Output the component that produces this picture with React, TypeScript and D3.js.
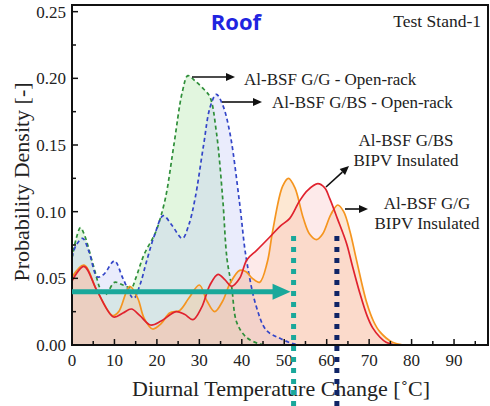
import * as d3 from "d3";

// Al-BSF G/G - Open-rack (green dashed)
const ggOpenX = [0, 1, 2, 3, 5, 7, 8, 10, 12, 14, 15, 17, 19, 20, 22, 24, 26, 27.3, 29, 31, 32.5, 34, 35.5, 36.5, 37.6, 38.8, 41, 44, 46];
const ggOpenY = [0.065, 0.08, 0.088, 0.082, 0.06, 0.04, 0.038, 0.047, 0.045, 0.043, 0.05, 0.068, 0.08, 0.087, 0.11, 0.15, 0.19, 0.202, 0.198, 0.192, 0.186, 0.16, 0.11, 0.065, 0.044, 0.017, 0.006, 0.001, 0];

// Al-BSF G/BS - Open-rack (blue dashed)
const gbsOpenX = [0, 1, 2.5, 4, 6, 7.5, 10, 12, 14.5, 16, 17.5, 19.5, 21.5, 23.5, 26, 27.5, 29, 31, 32.5, 34, 35.5, 37.2, 39.5, 41, 43.4, 45.8, 49, 52, 54];
const gbsOpenY = [0.066, 0.075, 0.08, 0.07, 0.051, 0.053, 0.063, 0.05, 0.035, 0.045, 0.062, 0.083, 0.097, 0.09, 0.08, 0.09, 0.11, 0.15, 0.178, 0.188, 0.18, 0.159, 0.106, 0.066, 0.029, 0.011, 0.005, 0.001, 0];

// Al-BSF G/G BIPV Insulated (orange)
const ggBipvX = [0, 2.8, 6, 9.6, 11, 13.6, 15.5, 17, 19, 21, 23, 25.4, 27.5, 30, 31.8, 33.6, 35.5, 37.2, 39.5, 41, 42.5, 44.2, 46, 47.3, 49.6, 51, 52.5, 54.5, 56, 57.6, 59, 61, 62.6, 64, 65.5, 67, 69.4, 71, 72.5, 75.5, 78];
const ggBipvY = [0.051, 0.06, 0.04, 0.022, 0.025, 0.044, 0.035, 0.02, 0.012, 0.016, 0.024, 0.026, 0.035, 0.045, 0.033, 0.025, 0.033, 0.046, 0.056, 0.055, 0.05, 0.047, 0.062, 0.086, 0.119, 0.125, 0.118, 0.095, 0.083, 0.079, 0.083, 0.098, 0.105, 0.1, 0.085, 0.064, 0.032, 0.018, 0.01, 0.002, 0];

// Al-BSF G/BS BIPV Insulated (red)
const gbsBipvX = [0, 2.8, 6, 9.8, 12, 14, 16, 18.5, 21, 24.5, 26.5, 28.5, 30.5, 32.5, 34.4, 36, 37.6, 39.5, 41.2, 43.5, 46.6, 49, 51.3, 53.6, 55.5, 57.9, 59.5, 60.7, 62.5, 64.7, 66, 67.8, 69.5, 70.8, 72.5, 74, 76];
const gbsBipvY = [0.048, 0.059, 0.04, 0.021, 0.024, 0.027, 0.022, 0.015, 0.018, 0.025, 0.023, 0.019, 0.028, 0.045, 0.053, 0.049, 0.044, 0.05, 0.064, 0.071, 0.081, 0.089, 0.095, 0.108, 0.116, 0.121, 0.118, 0.11, 0.095, 0.076, 0.06, 0.039, 0.022, 0.013, 0.006, 0.002, 0];

const xTicks = [0, 10, 20, 30, 40, 50, 60, 70, 80, 90];
const yTicks = [0, 0.05, 0.1, 0.15, 0.2, 0.25];

// markers
const meanLevel = 0.04;
const meanOpen = 52.2;
const meanBipv = 62.4;

const W = 490;
const H = 406;
const serif = "'Liberation Serif', 'Times New Roman', serif";

export default function App() {
  const x = d3.scaleLinear().domain([0, 98]).range([72, 488]);
  const y = d3.scaleLinear().domain([0, 0.255]).range([345, 5]);

  const zip = (xs: number[], ys: number[]) => xs.map((v, i) => [v, ys[i]] as [number, number]);
  const curve = d3.curveCatmullRom.alpha(0.5);
  const area = d3.area<[number, number]>().x(d => x(d[0])).y0(y(0)).y1(d => y(d[1])).curve(curve);
  const line = d3.line<[number, number]>().x(d => x(d[0])).y(d => y(d[1])).curve(curve);

  const series = [
    { d: zip(ggOpenX, ggOpenY), stroke: "#2f8f3a", fill: "rgba(190,235,185,0.45)", dash: "4,3" },
    { d: zip(gbsOpenX, gbsOpenY), stroke: "#3345c8", fill: "rgba(195,200,245,0.35)", dash: "4,3" },
    { d: zip(ggBipvX, ggBipvY), stroke: "#f5951f", fill: "rgba(250,200,150,0.42)", dash: null },
    { d: zip(gbsBipvX, gbsBipvY), stroke: "#e0222e", fill: "rgba(250,185,185,0.3)", dash: null },
  ];

  const minorX = d3.range(5, 98, 10);
  const minorY = d3.range(0.025, 0.255, 0.05);

  const arrow = (x1: number, y1: number, x2: number, y2: number, key: string) => {
    const a = Math.atan2(y2 - y1, x2 - x1);
    const L = 9, w = 4;
    const bx = x2 - L * Math.cos(a), by = y2 - L * Math.sin(a);
    const p = `${x2},${y2} ${bx - w * Math.sin(a)},${by + w * Math.cos(a)} ${bx + w * Math.sin(a)},${by - w * Math.cos(a)}`;
    return (
      <g key={key}>
        <line x1={x1} y1={y1} x2={bx} y2={by} stroke="#111" strokeWidth={1.6} />
        <polygon points={p} fill="#111" />
      </g>
    );
  };

  const teal = "#19a89b";
  const tealY = y(meanLevel);

  return (
    <svg width={W} height={H} style={{ position: "absolute", left: 0, top: 0, background: "#fff" }} fontFamily={serif}>
      {series.map((s, i) => (
        <path key={"a" + i} d={area(s.d) ?? ""} fill={s.fill} />
      ))}
      {series.map((s, i) => (
        <path key={"l" + i} d={line(s.d) ?? ""} fill="none" stroke={s.stroke} strokeWidth={1.7} strokeDasharray={s.dash ?? undefined} />
      ))}

      {/* frame */}
      <rect x={72} y={5} width={416} height={340} fill="none" stroke="#111" strokeWidth={2} />

      {/* ticks */}
      {xTicks.map(t => (
        <g key={"xt" + t}>
          <line x1={x(t)} x2={x(t)} y1={345} y2={339} stroke="#111" strokeWidth={1.5} />
          <text x={x(t)} y={366} textAnchor="middle" fontSize={17} fill="#222">{t}</text>
        </g>
      ))}
      {minorX.map(t => (
        <line key={"xm" + t} x1={x(t)} x2={x(t)} y1={345} y2={341} stroke="#111" strokeWidth={1.5} />
      ))}
      {yTicks.map(t => (
        <g key={"yt" + t}>
          <line x1={72} x2={78} y1={y(t)} y2={y(t)} stroke="#111" strokeWidth={1.5} />
          <text x={66} y={y(t) + 6} textAnchor="end" fontSize={17} fill="#222">{t.toFixed(2)}</text>
        </g>
      ))}
      {minorY.map(t => (
        <line key={"ym" + t} x1={72} x2={76} y1={y(t)} y2={y(t)} stroke="#111" strokeWidth={1.5} />
      ))}

      {/* axis titles */}
      <text x={281} y={396} textAnchor="middle" fontSize={22} fill="#222">Diurnal Temperature Change [˚C]</text>
      <text transform="translate(29,182) rotate(-90)" textAnchor="middle" fontSize={22} fill="#222">Probability Density [-]</text>

      {/* titles */}
      <text x={236} y={30} textAnchor="middle" fontSize={22} fontWeight="bold" fontFamily="'Open Sans', sans-serif" fill="#1f24e0">Roof</text>
      <text x={481} y={27} textAnchor="end" fontSize={17.5} fill="#222">Test Stand-1</text>

      {/* annotations */}
      {arrow(192, 77, 235, 77, "a1")}
      {arrow(222, 102, 262, 102, "a2")}
      {arrow(326, 187, 349, 166, "a3")}
      {arrow(345, 209, 368, 209, "a4")}
      <text x={244} y={85} fontSize={17} fill="#222">Al-BSF G/G - Open-rack</text>
      <text x={272} y={108} fontSize={17} fill="#222">Al-BSF G/BS - Open-rack</text>
      <text x={406} y={146} textAnchor="middle" fontSize={17} fill="#222">Al-BSF G/BS</text>
      <text x={406} y={166} textAnchor="middle" fontSize={17} fill="#222">BIPV Insulated</text>
      <text x={427} y={209} textAnchor="middle" fontSize={17} fill="#222">Al-BSF G/G</text>
      <text x={427} y={229} textAnchor="middle" fontSize={17} fill="#222">BIPV Insulated</text>

      {/* mean markers */}
      <line x1={72} x2={x(meanOpen) - 20} y1={tealY} y2={tealY} stroke={teal} strokeWidth={5} />
      <polygon points={`${x(meanOpen) - 3},${tealY} ${x(meanOpen) - 21},${tealY - 8} ${x(meanOpen) - 21},${tealY + 8}`} fill={teal} />
      <line x1={x(meanOpen)} x2={x(meanOpen)} y1={236} y2={406} stroke={teal} strokeWidth={5} strokeDasharray="5,6" />
      <line x1={x(meanBipv)} x2={x(meanBipv)} y1={236} y2={406} stroke="#0f2466" strokeWidth={5} strokeDasharray="5,6" />
    </svg>
  );
}
